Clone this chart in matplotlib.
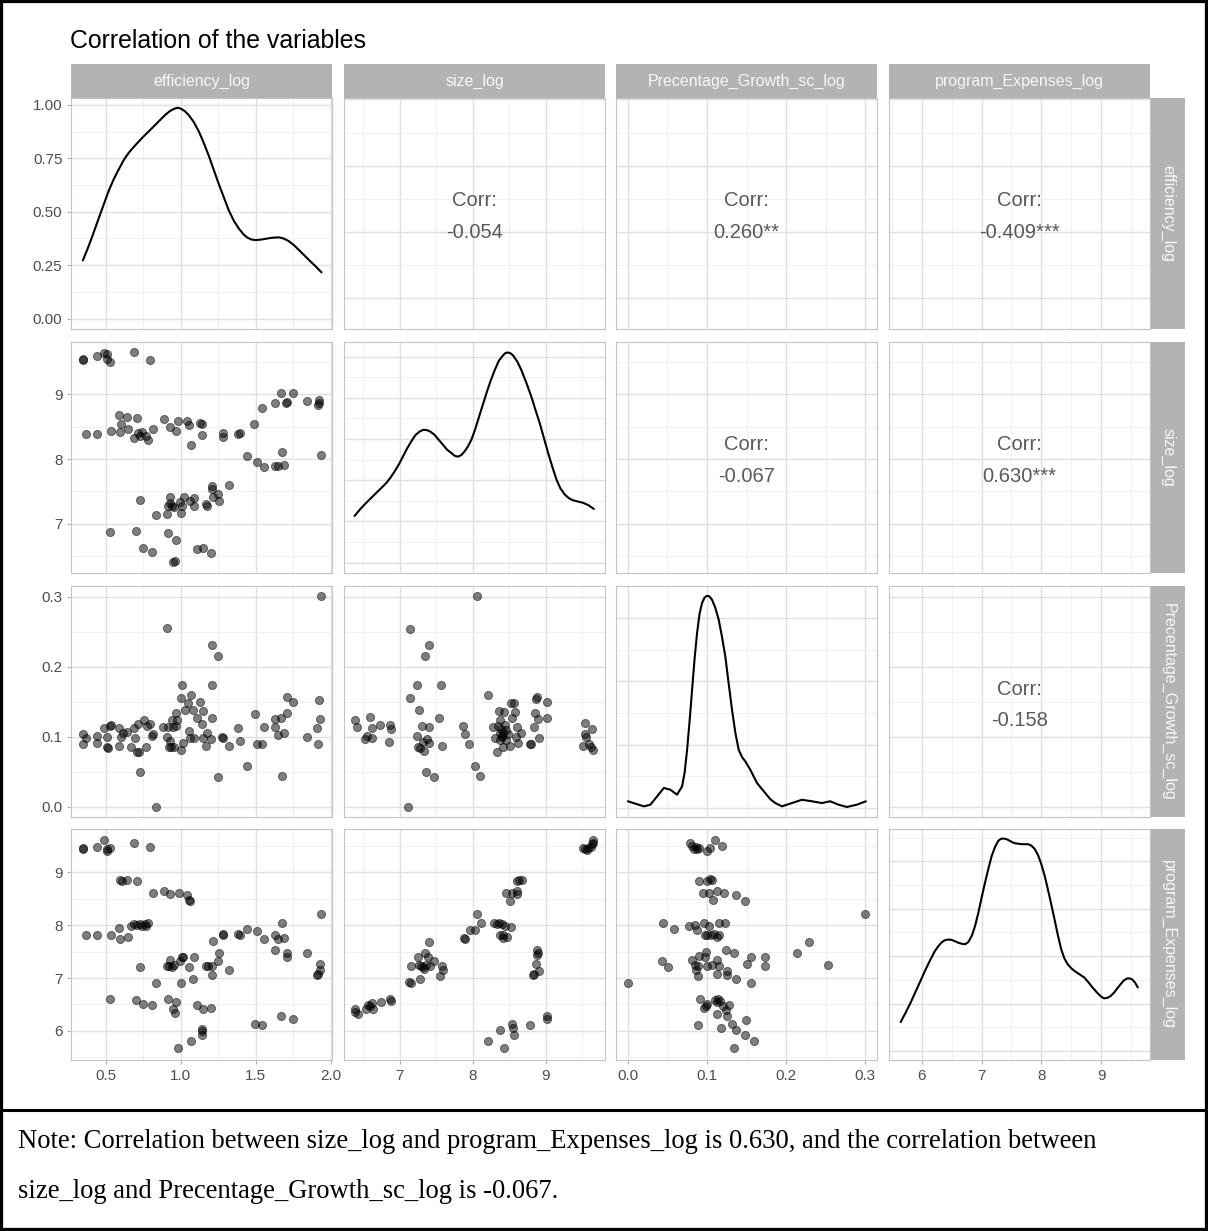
import matplotlib
matplotlib.use("Agg")
import matplotlib.pyplot as plt
from matplotlib.patches import Rectangle
from matplotlib.lines import Line2D

plt.rcParams['font.family'] = ['Liberation Sans', 'DejaVu Sans']

W, H = 1208, 1231

variables = ["efficiency_log", "size_log", "Precentage_Growth_sc_log", "program_Expenses_log"]
limits = [(0.27, 2.01), (6.24, 9.81), (-0.015, 0.315), (5.45, 9.82)]
major_breaks = [[0.5, 1.0, 1.5, 2.0], [7, 8, 9], [0.0, 0.1, 0.2, 0.3], [6, 7, 8, 9]]
minor_breaks = [[0.75, 1.25, 1.75], [6.5, 7.5, 8.5, 9.5], [0.05, 0.15, 0.25], [5.5, 6.5, 7.5, 8.5, 9.5]]
break_labels = [["0.5", "1.0", "1.5", "2.0"], ["7", "8", "9"], ["0.0", "0.1", "0.2", "0.3"], ["6", "7", "8", "9"]]

# density panels (diagonal)
dens_ylim = [(-0.049, 1.032), (-0.0255, 0.5355), (-0.71, 17.51), (-0.019, 0.468)]
dens_major = [[0, 0.25, 0.5, 0.75, 1.0], [0, 0.1, 0.2, 0.3, 0.4, 0.5], [0, 5, 10, 15], [0, 0.1, 0.2, 0.3, 0.4]]
dens_minor = [[0.125, 0.375, 0.625, 0.875], [0.05, 0.15, 0.25, 0.35, 0.45], [2.5, 7.5, 12.5], [0.05, 0.15, 0.25, 0.35, 0.45]]
first_row_labels = ["0.00", "0.25", "0.50", "0.75", "1.00"]

dens_eff_x = [0.349, 0.380, 0.411, 0.445, 0.478, 0.522, 0.555, 0.589, 0.620, 0.655, 0.700, 0.745, 0.790, 0.833,
              0.868, 0.900, 0.930, 0.956, 0.978, 1.000, 1.028, 1.055, 1.088, 1.122, 1.155, 1.189, 1.222, 1.255,
              1.290, 1.322, 1.355, 1.389, 1.420, 1.445, 1.472, 1.500, 1.533, 1.567, 1.610, 1.655, 1.690, 1.722,
              1.755, 1.789, 1.822, 1.855, 1.898, 1.940]
dens_eff_y = [0.272, 0.325, 0.383, 0.450, 0.514, 0.599, 0.652, 0.699, 0.740, 0.776, 0.812, 0.846, 0.877, 0.907,
              0.932, 0.954, 0.971, 0.981, 0.986, 0.983, 0.971, 0.952, 0.920, 0.876, 0.822, 0.761, 0.695, 0.630,
              0.565, 0.506, 0.458, 0.421, 0.394, 0.379, 0.370, 0.367, 0.369, 0.373, 0.378, 0.380, 0.374, 0.362,
              0.344, 0.321, 0.298, 0.275, 0.246, 0.216]

dens_size_x = [6.384, 6.464, 6.544, 6.612, 6.681, 6.750, 6.818, 6.875, 6.932, 6.990, 7.045, 7.100, 7.160, 7.215,
               7.274, 7.320, 7.366, 7.420, 7.479, 7.535, 7.593, 7.650, 7.708, 7.755, 7.799, 7.845, 7.890, 7.936,
               7.982, 8.028, 8.073, 8.130, 8.188, 8.245, 8.301, 8.358, 8.415, 8.450, 8.484, 8.518, 8.552, 8.610,
               8.667, 8.735, 8.804, 8.860, 8.918, 8.975, 9.032, 9.090, 9.147, 9.200, 9.260, 9.317, 9.374, 9.440,
               9.511, 9.585, 9.658]
dens_size_y = [0.113, 0.130, 0.145, 0.157, 0.169, 0.181, 0.193, 0.206, 0.221, 0.238, 0.257, 0.276, 0.294, 0.309,
               0.318, 0.322, 0.322, 0.318, 0.310, 0.298, 0.286, 0.274, 0.266, 0.259, 0.257, 0.261, 0.270, 0.282,
               0.298, 0.320, 0.346, 0.378, 0.411, 0.441, 0.467, 0.490, 0.503, 0.509, 0.510, 0.508, 0.503, 0.488,
               0.467, 0.436, 0.402, 0.370, 0.338, 0.302, 0.266, 0.232, 0.201, 0.180, 0.165, 0.156, 0.151, 0.148,
               0.145, 0.139, 0.130]

dens_growth_x = [0.0, 0.0096, 0.0202, 0.0285, 0.037, 0.0455, 0.0538, 0.0622, 0.0686, 0.0718, 0.0749, 0.0781,
                 0.0812, 0.0844, 0.0875, 0.0906, 0.0938, 0.0970, 0.1001, 0.1032, 0.1064, 0.1105, 0.1149, 0.1190,
                 0.1232, 0.1275, 0.1317, 0.1360, 0.1401, 0.1445, 0.1485, 0.1548, 0.1633, 0.1737, 0.1800, 0.1864,
                 0.1948, 0.2074, 0.2201, 0.2327, 0.2453, 0.2558, 0.2664, 0.2769, 0.2895, 0.3009]
dens_growth_y = [0.53, 0.34, 0.13, 0.26, 0.92, 1.58, 1.44, 1.05, 1.71, 2.80, 4.60, 6.90, 9.33, 11.80, 13.80,
                 15.30, 16.17, 16.60, 16.74, 16.68, 16.43, 15.80, 14.85, 13.50, 11.96, 9.80, 7.75, 5.90, 4.60,
                 4.00, 3.68, 3.02, 1.97, 1.18, 0.70, 0.39, 0.13, 0.39, 0.65, 0.53, 0.39, 0.53, 0.26, 0.08, 0.26,
                 0.53]

dens_prog_x = [5.646, 5.729, 5.812, 5.895, 5.978, 6.060, 6.145, 6.215, 6.282, 6.340, 6.394, 6.450, 6.505, 6.560,
               6.615, 6.670, 6.726, 6.780, 6.837, 6.890, 6.947, 7.000, 7.058, 7.115, 7.169, 7.225, 7.279, 7.320,
               7.362, 7.404, 7.445, 7.500, 7.556, 7.612, 7.668, 7.722, 7.777, 7.833, 7.889, 7.945, 8.000, 8.055,
               8.110, 8.165, 8.221, 8.276, 8.332, 8.387, 8.442, 8.497, 8.553, 8.636, 8.719, 8.788, 8.857, 8.927,
               8.997, 9.050, 9.106, 9.162, 9.218, 9.273, 9.329, 9.384, 9.439, 9.480, 9.522, 9.570, 9.616]
dens_prog_y = [0.061, 0.081, 0.102, 0.125, 0.148, 0.171, 0.193, 0.210, 0.222, 0.230, 0.234, 0.235, 0.234, 0.231,
               0.228, 0.226, 0.225, 0.230, 0.243, 0.263, 0.292, 0.323, 0.355, 0.385, 0.411, 0.430, 0.443, 0.447,
               0.448, 0.447, 0.445, 0.441, 0.438, 0.437, 0.436, 0.436, 0.436, 0.433, 0.426, 0.413, 0.394, 0.370,
               0.341, 0.310, 0.278, 0.245, 0.215, 0.195, 0.183, 0.175, 0.169, 0.162, 0.155, 0.145, 0.134, 0.124,
               0.115, 0.111, 0.112, 0.116, 0.123, 0.132, 0.141, 0.149, 0.153, 0.153, 0.151, 0.144, 0.134]

# scatter panels (lower triangle)
eff_size_x = [0.351, 0.351, 0.444, 0.493, 0.511, 0.507, 0.529, 0.689, 0.796,
              0.373, 0.444, 0.538, 0.593, 0.600, 0.596, 0.640, 0.649, 0.689, 0.711, 0.716, 0.729, 0.744, 0.771,
              0.784, 0.818, 0.889, 0.929, 0.973, 0.984, 1.040, 1.056, 1.071, 1.133, 1.140, 1.144, 1.284, 1.284,
              1.382, 1.396, 1.493,
              1.540, 1.629, 1.671, 1.700, 1.711, 1.749, 1.840, 1.916, 1.922, 1.922, 1.938,
              1.444, 1.511, 1.556, 1.627, 1.651, 1.678, 1.693,
              0.729, 0.836, 0.907, 0.918, 0.929, 0.933, 0.944, 0.956, 0.996, 1.000, 1.011, 1.022, 1.060, 1.089,
              1.093, 1.173, 1.178, 1.211, 1.211, 1.216, 1.251, 1.256, 1.322,
              0.533, 0.700, 0.751, 0.807, 0.918, 0.967, 0.951, 0.960, 1.107, 1.151, 1.204]
eff_size_y = [9.538, 9.554, 9.595, 9.641, 9.621, 9.554, 9.503, 9.651, 9.538,
              8.385, 8.395, 8.441, 8.682, 8.544, 8.426, 8.656, 8.462, 8.323, 8.631, 8.400, 8.359, 8.426, 8.359,
              8.297, 8.462, 8.615, 8.503, 8.441, 8.595, 8.595, 8.528, 8.221, 8.564, 8.544, 8.374, 8.410, 8.349,
              8.390, 8.410, 8.544,
              8.795, 8.872, 9.026, 8.872, 8.887, 9.026, 8.903, 8.836, 8.872, 8.913, 8.067,
              8.041, 7.954, 7.872, 7.887, 7.887, 8.103, 7.908,
              7.374, 7.133, 7.159, 7.282, 7.323, 7.415, 7.282, 7.256, 7.333, 7.169, 7.272, 7.410, 7.349, 7.272,
              7.400, 7.308, 7.282, 7.579, 7.538, 7.410, 7.467, 7.349, 7.595,
              6.872, 6.887, 6.631, 6.564, 6.862, 6.749, 6.410, 6.426, 6.615, 6.631, 6.544]

eff_growth_x = [0.349, 0.349, 0.373, 0.444, 0.444, 0.489, 0.507, 0.511, 0.516, 0.533,
                0.538, 0.593, 0.593, 0.604, 0.618, 0.644, 0.667, 0.689, 0.696, 0.707,
                0.716, 0.722, 0.729, 0.756, 0.767, 0.778, 0.796, 0.811, 0.818, 0.836,
                0.884, 0.907, 0.907, 0.916, 0.922, 0.933, 0.938, 0.944, 0.951, 0.956,
                0.967, 0.973, 0.978, 1.000, 1.004, 1.007, 1.018, 1.033, 1.051, 1.056,
                1.062, 1.071, 1.084, 1.093, 1.107, 1.133, 1.142, 1.147, 1.151, 1.173,
                1.178, 1.204, 1.211, 1.211, 1.211, 1.251, 1.251, 1.278, 1.284, 1.322,
                1.382, 1.396, 1.444, 1.496, 1.507, 1.540, 1.556, 1.627, 1.633, 1.649,
                1.667, 1.678, 1.693, 1.707, 1.711, 1.749, 1.840, 1.911, 1.918, 1.922,
                1.927, 1.938]
eff_growth_y = [0.103, 0.0888, 0.0973, 0.1006, 0.0902, 0.1115, 0.0997, 0.0854, 0.0831, 0.1153,
                0.1163, 0.1125, 0.0869, 0.0997, 0.1054, 0.1068, 0.0854, 0.1115, 0.0973, 0.0783,
                0.1177, 0.0783, 0.0489, 0.1234, 0.0854, 0.1149, 0.1177, 0.1011, 0.1035, 0.0,
                0.1139, 0.2549, 0.0997, 0.1139, 0.0854, 0.094, 0.0854, 0.1234, 0.1139, 0.0854,
                0.1153, 0.1338, 0.1234, 0.0807, 0.1552, 0.1742, 0.0902, 0.1376, 0.1481, 0.1082,
                0.0973, 0.159, 0.1376, 0.0973, 0.1267, 0.1486, 0.1177, 0.1367, 0.0973, 0.0869,
                0.1044, 0.0963, 0.2311, 0.1742, 0.1258, 0.2145, 0.0427, 0.0997, 0.0973, 0.0864,
                0.1115, 0.0935, 0.0579, 0.1319, 0.0888, 0.0888, 0.1139, 0.1139, 0.1243, 0.102,
                0.1258, 0.0437, 0.1044, 0.1338, 0.1566, 0.1495, 0.0987, 0.1125, 0.0892, 0.1519,
                0.1243, 0.3004]

eff_prog_x = [0.349, 0.349, 0.444, 0.489, 0.507, 0.511, 0.529, 0.689, 0.796,
              0.596, 0.611, 0.640, 0.711, 0.818, 0.889, 0.929, 0.989, 1.040, 1.056, 1.060,
              0.373, 0.444, 0.538, 0.593, 0.596, 0.649, 0.667, 0.689, 0.711, 0.729, 0.744, 0.762, 0.771, 0.784,
              0.729, 0.836, 0.907, 0.922, 0.933, 0.944, 0.956, 0.996, 1.007, 1.018, 1.004, 1.056, 1.082, 1.093,
              1.173, 1.182, 1.211, 1.216, 1.211, 1.251, 1.256, 1.284, 1.284, 1.322, 1.382, 1.396, 1.444, 1.511,
              1.556, 1.627, 1.633, 1.651, 1.678, 1.693, 1.707, 1.711, 1.840, 1.911, 1.918, 1.927, 1.929, 1.938,
              0.533, 0.700, 0.751, 0.807, 0.918, 0.967, 0.951, 0.960, 1.107, 1.151, 1.204,
              0.980, 1.071, 1.140, 1.144, 1.142, 1.496, 1.540, 1.671, 1.749]
eff_prog_y = [9.440, 9.453, 9.471, 9.608, 9.440, 9.403, 9.465, 9.546, 9.484,
              8.864, 8.845, 8.851, 8.845, 8.616, 8.647, 8.597, 8.616, 8.572, 8.479, 8.461,
              7.810, 7.810, 7.810, 7.952, 7.748, 7.779, 7.983, 8.014, 7.996, 8.027, 7.977, 8.027, 7.977, 8.039,
              7.202, 6.911, 7.233, 7.221, 7.345, 7.202, 7.239, 7.314, 7.407, 7.394, 6.911, 7.202, 6.991, 7.394,
              7.221, 7.221, 7.066, 7.698, 7.221, 7.314, 7.481, 7.810, 7.841, 7.147, 7.828, 7.810, 7.921, 7.890,
              7.748, 7.810, 7.531, 7.748, 8.045, 7.766, 7.481, 7.394, 7.481, 7.066, 7.084, 7.270, 7.146, 8.213,
              6.613, 6.582, 6.508, 6.489, 6.601, 6.551, 6.415, 6.340, 6.489, 6.415, 6.427,
              5.671, 5.807, 5.931, 6.030, 6.000, 6.136, 6.105, 6.278, 6.229]

size_growth_x = [6.384, 6.420, 6.534, 6.553, 6.598, 6.621, 6.626, 6.735, 6.854, 6.863,
                 6.886, 7.119, 7.146, 7.146, 7.242, 7.242, 7.251, 7.265, 7.283, 7.306,
                 7.320, 7.333, 7.342, 7.365, 7.374, 7.397, 7.402, 7.402, 7.466, 7.539,
                 7.571, 7.584, 7.868, 7.890, 7.950, 8.027, 8.059, 8.105, 8.215, 8.279,
                 8.311, 8.338, 8.356, 8.370, 8.370, 8.393, 8.402, 8.416, 8.425, 8.438,
                 8.461, 8.484, 8.507, 8.521, 8.543, 8.562, 8.575, 8.589, 8.607, 8.621,
                 8.658, 8.781, 8.804, 8.840, 8.858, 8.872, 8.881, 8.890, 8.904, 9.018,
                 9.018, 9.534, 9.534, 9.511, 9.548, 9.594, 9.639, 9.648, 9.612,
                 8.400, 8.420, 8.380, 8.450, 8.350]
size_growth_y = [0.1234, 0.1130, 0.0959, 0.1006, 0.1272, 0.1115, 0.0982, 0.1163, 0.0916, 0.1163,
                 0.1101, 0.0, 0.2539, 0.1557, 0.1742, 0.1006, 0.0845, 0.1376, 0.0831, 0.1153,
                 0.0925, 0.0797, 0.2145, 0.0489, 0.0959, 0.2311, 0.1130, 0.0902, 0.0427, 0.1258,
                 0.1732, 0.0869, 0.1149, 0.1035, 0.0888, 0.0579, 0.3014, 0.0441, 0.159, 0.1139,
                 0.0973, 0.0783, 0.1362, 0.1234, 0.1044, 0.1106, 0.1006, 0.0854, 0.1353, 0.1163,
                 0.0949, 0.1035, 0.0869, 0.1481, 0.1267, 0.1481, 0.1353, 0.0997, 0.1130, 0.0902,
                 0.1054, 0.0892, 0.0892, 0.1130, 0.1338, 0.1542, 0.1566, 0.1243, 0.0982, 0.1495,
                 0.1258, 0.1187, 0.1035, 0.0869, 0.0997, 0.0892, 0.1106, 0.0807, 0.0854,
                 0.100, 0.105, 0.095, 0.110, 0.115]

size_prog_x = [6.394, 6.394, 6.431, 6.540, 6.563, 6.599, 6.622, 6.636, 6.745, 6.863,
               6.886, 7.123, 7.155, 7.155, 7.251, 7.260, 7.273, 7.292, 7.314, 7.337,
               7.351, 7.364, 7.383, 7.406, 7.419, 7.474, 7.547, 7.579, 7.592, 7.875,
               7.897, 7.957, 8.034, 8.066, 8.112, 8.285, 8.330, 8.362, 8.376, 8.399,
               8.408, 8.421, 8.444, 8.467, 8.526, 8.458, 8.513, 8.535, 8.604, 8.613,
               8.604, 8.636, 8.672, 8.822, 8.845, 8.868, 8.877, 8.886, 8.900, 8.913,
               8.216, 8.367, 8.435, 8.535, 8.549, 8.567, 8.786, 9.023, 9.023, 9.515,
               9.538, 9.560, 9.583, 9.615, 9.629, 9.642, 9.651]
size_prog_y = [6.415, 6.365, 6.322, 6.415, 6.489, 6.464, 6.526, 6.415, 6.551, 6.601,
               6.570, 6.923, 6.898, 7.233, 7.407, 7.239, 6.991, 7.221, 7.208, 7.177,
               7.481, 7.239, 7.394, 7.686, 7.221, 7.314, 7.047, 7.233, 7.146, 7.766,
               7.748, 7.903, 7.915, 8.213, 8.045, 8.039, 8.014, 8.039, 7.810, 8.014,
               7.810, 7.766, 7.977, 7.779, 7.965, 8.616, 8.461, 8.616, 8.585, 8.647,
               8.845, 8.851, 8.864, 7.053, 7.084, 7.270, 7.531, 7.438, 7.481, 7.140,
               5.807, 6.012, 5.671, 6.136, 6.055, 5.919, 6.105, 6.278, 6.229, 9.465,
               9.440, 9.422, 9.465, 9.484, 9.527, 9.608, 9.564]

growth_prog_x = [0.0788, 0.0809, 0.0838, 0.0863, 0.0880, 0.0905, 0.0997, 0.1039, 0.1106, 0.1190,
                 0.0905, 0.0997, 0.1039, 0.1060, 0.0955, 0.1026, 0.1081, 0.1131, 0.1215, 0.1362,
                 0.1479, 0.3000, 0.0444, 0.0578, 0.0779, 0.0850, 0.0880, 0.0968, 0.0976, 0.1005,
                 0.1031, 0.1047, 0.1089, 0.1131, 0.1156, 0.1156, 0.1227, 0.1240, 0.1345, 0.2296,
                 0.2141, 0.1563, 0.1730, 0.1512, 0.1730, 0.2535, 0.0432, 0.0503, 0.0809, 0.0850,
                 0.0863, 0.0892, 0.0905, 0.0976, 0.0989, 0.0997, 0.1060, 0.1123, 0.1131, 0.1156,
                 0.1248, 0.1257, 0.0892, 0.1366, 0.1563, 0.0000, 0.0913, 0.0964, 0.0989, 0.0997,
                 0.1102, 0.1123, 0.1144, 0.1165, 0.1198, 0.1240, 0.1257, 0.1278, 0.1123, 0.1491,
                 0.0892, 0.1177, 0.1320, 0.1366, 0.1479, 0.1592, 0.1345]
growth_prog_y = [9.546, 9.502, 9.440, 9.484, 9.440, 9.453, 9.403, 9.453, 9.608, 9.496,
                 8.845, 8.845, 8.876, 8.864, 8.616, 8.616, 8.479, 8.647, 8.616, 8.572,
                 8.461, 8.213, 8.045, 7.934, 7.977, 7.996, 7.903, 8.039, 7.810, 7.810,
                 7.977, 7.810, 7.828, 7.779, 8.039, 7.810, 8.039, 7.531, 7.481, 7.686,
                 7.481, 7.394, 7.407, 7.270, 7.221, 7.239, 7.314, 7.202, 7.345, 7.252,
                 7.159, 7.221, 7.419, 7.394, 7.487, 7.221, 7.239, 7.345, 7.084, 7.221,
                 7.128, 7.066, 7.047, 6.991, 6.911, 6.911, 6.601, 6.427, 6.477, 6.508,
                 6.588, 6.551, 6.601, 6.570, 6.477, 6.402, 6.278, 6.489, 6.322, 6.216,
                 6.105, 6.055, 6.136, 6.012, 5.919, 5.807, 5.671]

# correlation labels (upper triangle)
corr_12, corr_13, corr_14 = "-0.054", "0.260**", "-0.409***"
corr_23, corr_24 = "-0.067", "0.630***"
corr_34 = "-0.158"

note_line1 = ("Note: Correlation between size_log and program_Expenses_log is 0.630, "
              "and the correlation between")
note_line2 = "size_log and Precentage_Growth_sc_log is -0.067."

densities = {0: (dens_eff_x, dens_eff_y), 1: (dens_size_x, dens_size_y),
             2: (dens_growth_x, dens_growth_y), 3: (dens_prog_x, dens_prog_y)}
scatters = {(1, 0): (eff_size_x, eff_size_y), (2, 0): (eff_growth_x, eff_growth_y),
            (3, 0): (eff_prog_x, eff_prog_y), (2, 1): (size_growth_x, size_growth_y),
            (3, 1): (size_prog_x, size_prog_y), (3, 2): (growth_prog_x, growth_prog_y)}
corrs = {(0, 1): corr_12, (0, 2): corr_13, (0, 3): corr_14,
         (1, 2): corr_23, (1, 3): corr_24, (2, 3): corr_34}


def px_rect(x, y, w, h):
    return [x / W, 1 - (y + h) / H, w / W, h / H]


col_left = [71, 344, 616, 889]
row_top = [98, 342, 586, 829]
pw, ph = 261, 231

fig = plt.figure(figsize=(W / 100, H / 100), dpi=100)
fig.patch.set_facecolor('white')

for i in range(4):
    for j in range(4):
        ax = fig.add_axes(px_rect(col_left[j], row_top[i], pw, ph))
        ax.set_xlim(limits[j])
        ax.set_xticks(major_breaks[j])
        ax.set_xticks(minor_breaks[j], minor=True)
        if i == j:
            ax.set_ylim(dens_ylim[i])
            ax.set_yticks(dens_major[i])
            ax.set_yticks(dens_minor[i], minor=True)
            dx, dy = densities[i]
            ax.plot(dx, dy, color='black', lw=1.5, solid_capstyle='round', solid_joinstyle='round')
        else:
            ax.set_ylim(limits[i])
            ax.set_yticks(major_breaks[i])
            ax.set_yticks(minor_breaks[i], minor=True)
        if i > j:
            sx, sy = scatters[(i, j)]
            ax.scatter(sx, sy, s=34, c='black', alpha=0.5, edgecolors='black', linewidths=0.7, zorder=3)
        if i < j:
            ax.text(0.5, 0.5 + 12.5 / ph, "Corr:", transform=ax.transAxes, ha='center', va='center',
                    fontsize=14.5, color='#595959')
            ax.text(0.5, 0.5 - 18.5 / ph, corrs[(i, j)], transform=ax.transAxes, ha='center', va='center',
                    fontsize=14.5, color='#595959')

        ax.set_axisbelow(True)
        ax.grid(which='major', color='#E0E0E0', lw=1.0)
        ax.grid(which='minor', color='#EEEEEE', lw=0.6)
        for sp in ax.spines.values():
            sp.set_color('#C4C4C4')
            sp.set_linewidth(0.8)
        ax.tick_params(which='minor', length=0)
        ax.tick_params(which='major', colors='#B3B3B3', labelcolor='#4D4D4D', labelsize=11,
                       length=3.2, width=0.8, pad=3)
        if j == 0:
            if i == 0:
                ax.set_yticklabels(first_row_labels)
            else:
                ax.set_yticklabels(break_labels[i])
        else:
            ax.tick_params(axis='y', length=0, labelleft=False)
        if i == 3:
            ax.set_xticklabels(break_labels[j])
        else:
            ax.tick_params(axis='x', length=0, labelbottom=False)

# strips
strip_col = '#B3B3B3'
for j, name in enumerate(variables):
    fig.add_artist(Rectangle((col_left[j] / W, 1 - 98 / H), pw / W, 34 / H,
                             transform=fig.transFigure, facecolor=strip_col, edgecolor='none'))
    fig.text((col_left[j] + pw / 2) / W, 1 - 81 / H, name, ha='center', va='center',
             fontsize=11.5, color='#F7F7F7')
for i, name in enumerate(variables):
    fig.add_artist(Rectangle((1151 / W, 1 - (row_top[i] + ph) / H), 34 / W, ph / H,
                             transform=fig.transFigure, facecolor=strip_col, edgecolor='none'))
    fig.text(1168 / W, 1 - (row_top[i] + ph / 2) / H, name, ha='center', va='center',
             fontsize=11.5, color='#F7F7F7', rotation=-90)

fig.text(70 / W, 1 - 41 / H, "Correlation of the variables", ha='left', va='center',
         fontsize=17.9, color='black')

# note below the chart
fig.text(18 / W, 1 - 1142 / H, note_line1, ha='left', va='center', fontsize=19.2,
         family=['Liberation Serif', 'DejaVu Serif'], color='black')
fig.text(18 / W, 1 - 1192 / H, note_line2, ha='left', va='center', fontsize=19.2,
         family=['Liberation Serif', 'DejaVu Serif'], color='black')

# frame and separator
fig.add_artist(Rectangle((0, 0), 1, 1, transform=fig.transFigure, fill=False,
                         edgecolor='black', linewidth=4.5))
fig.add_artist(Line2D([0, 1], [1 - 1109.5 / H, 1 - 1109.5 / H], transform=fig.transFigure,
                      color='black', linewidth=2.2))

fig.savefig("out.png", dpi=100)
